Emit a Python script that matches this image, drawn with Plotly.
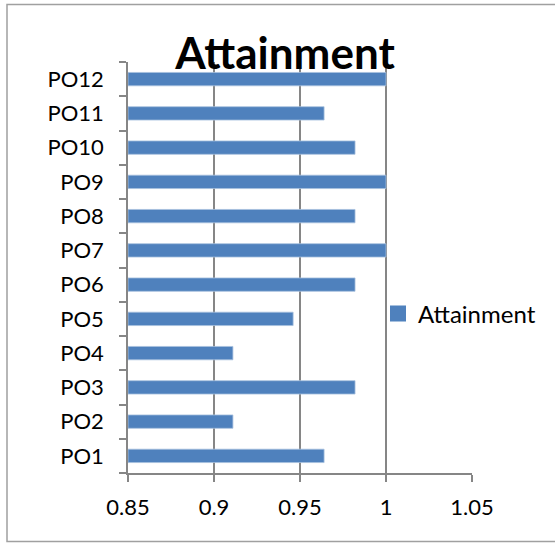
import plotly.graph_objects as go

# data
outcomes = ["PO1", "PO2", "PO3", "PO4", "PO5", "PO6",
            "PO7", "PO8", "PO9", "PO10", "PO11", "PO12"]
attainment = [0.964, 0.911, 0.982, 0.911, 0.946, 0.982,
              1.0, 0.982, 1.0, 0.982, 0.964, 1.0]
x_ticks = [0.85, 0.9, 0.95, 1, 1.05]
x_tick_text = ["0.85", "0.9", "0.95", "1", "1.05"]
base_value = 0.85

W, H = 555, 543
L, T = 128, 62
R, B = W - 472, H - 473
pw, ph = W - L - R, H - T - B
BLUE = "#4F81BD"
GRID = "#868686"


def px_x(sx):
    return (sx - L) / pw


def px_y(sy):
    return 1 - (sy - T) / ph


fig = go.Figure()
fig.add_trace(go.Bar(
    y=outcomes, x=[v - base_value for v in attainment], base=base_value,
    orientation="h", name="Attainment", width=0.39, showlegend=False,
    marker=dict(color=BLUE, line=dict(color="#A7C0DE", width=0.8)),
))
# legend entry drawn as a larger square, like the Excel legend key
fig.add_trace(go.Scatter(
    x=[None], y=[None], mode="markers", name="Attainment",
    marker=dict(symbol="square", size=16, color=BLUE),
))

fig.update_layout(
    width=W, height=H,
    margin=dict(l=L, r=R, t=T, b=B, autoexpand=False),
    paper_bgcolor="white", plot_bgcolor="white",
    font=dict(family="Lato, Carlito, sans-serif", size=22, color="black"),
    title=dict(text="<b>Attainment</b>", font=dict(size=44),
               xref="paper", x=px_x(285), xanchor="center",
               yref="container", y=1 - 54 / H, yanchor="middle"),
    showlegend=True,
    legend=dict(x=px_x(378), y=px_y(314), xanchor="left",
                yanchor="middle", bgcolor="rgba(0,0,0,0)",
                font=dict(size=24), itemwidth=30),
    bargap=0.61,
)
fig.update_xaxes(
    range=[0.85, 1.05], tickvals=x_ticks, ticktext=x_tick_text,
    showgrid=True, gridcolor=GRID, gridwidth=1.5,
    showline=True, linecolor=GRID, linewidth=1.5,
    ticks="outside", ticklen=7, tickcolor=GRID, tickwidth=1.5,
    zeroline=False, ticklabelstandoff=7, automargin=False,
)
fig.update_yaxes(
    type="category", categoryorder="array", categoryarray=outcomes,
    showgrid=False, showline=True, linecolor=GRID, linewidth=1.5,
    ticks="outside", tickson="boundaries", ticklen=7,
    tickcolor=GRID, tickwidth=1.5, ticklabelstandoff=18, automargin=False,
)
# outer chart frame
fig.add_shape(type="rect", xref="paper", yref="paper",
              x0=px_x(7), x1=px_x(570),
              y0=px_y(541.5), y1=px_y(4.5),
              line=dict(color="#A0A0A0", width=1.5), layer="below")

# drop the default page margin so the figure sits at the window's corner
fig.write_html("out.html", config={"displayModeBar": False},
               post_script="document.body.style.margin='0';")
